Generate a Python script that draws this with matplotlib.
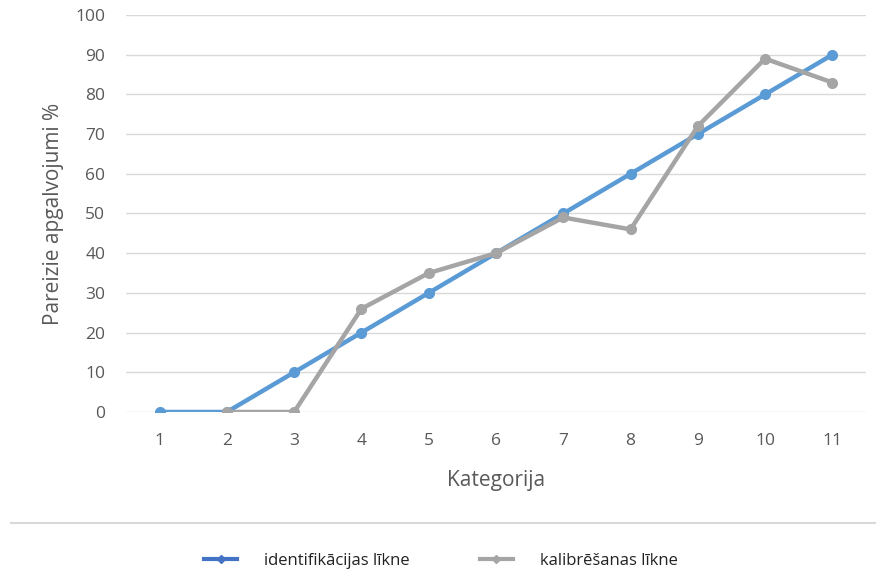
import matplotlib.pyplot as plt
from matplotlib.lines import Line2D

plt.rcParams['font.family'] = ['Open Sans', 'DejaVu Sans']

# category numbers along the x axis
kategorijas = [1, 2, 3, 4, 5, 6, 7, 8, 9, 10, 11]
# identification curve, all categories
ident = [0, 0, 10, 20, 30, 40, 50, 60, 70, 80, 90]
# calibration curve starts from category 2
kalib_x = [2, 3, 4, 5, 6, 7, 8, 9, 10, 11]
kalib = [0, 0, 26, 35, 40, 49, 46, 72, 89, 83]

zila = '#5b9bd5'
peleka = '#a5a5a5'
teksts = '#595959'

fig = plt.figure(figsize=(8.76, 5.71), dpi=100)
ax = fig.add_axes([0.1438, 0.2785, 0.8448, 0.6952])

ax.plot(kategorijas, ident, color=zila, lw=3.2, marker='o', ms=7,
        solid_capstyle='round', zorder=3)
ax.plot(kalib_x, kalib, color=peleka, lw=3.2, marker='o', ms=7,
        solid_capstyle='round', zorder=4)

ax.set_xlim(0.5, 11.5)
ax.set_ylim(0, 100)
ax.set_xticks(kategorijas)
ax.set_yticks(range(0, 101, 10))
ax.grid(axis='y', color='#d9d9d9', lw=1)
ax.set_axisbelow(True)
for s in ax.spines.values():
    s.set_visible(False)
ax.tick_params(length=0, labelsize=12.5, labelcolor=teksts, pad=15)
ax.tick_params(axis='y', pad=15)

ax.set_xlabel('Kategorija', fontsize=15, color=teksts, labelpad=15)
ax.set_ylabel('Pareizie apgalvojumi %', fontsize=15, color=teksts, labelpad=8)

# thin separator above the legend
fig.add_artist(Line2D([11 / 876, 1.0], [1 - 523 / 571] * 2, color='#d9d9d9', lw=1.5))

h1 = Line2D([], [], color='#4472c4', lw=3, marker='D', ms=4)
h2 = Line2D([], [], color=peleka, lw=3, marker='D', ms=4)
fig.legend([h1, h2], ['identifikācijas līkne', 'kalibrēšanas līkne'],
           loc='center', bbox_to_anchor=(0.503, 0.018), ncol=2, frameon=False,
           fontsize=12, labelcolor='#222222', handlelength=2.0,
           handletextpad=1.6, columnspacing=4.2)

fig.savefig('out.png', dpi=100)
